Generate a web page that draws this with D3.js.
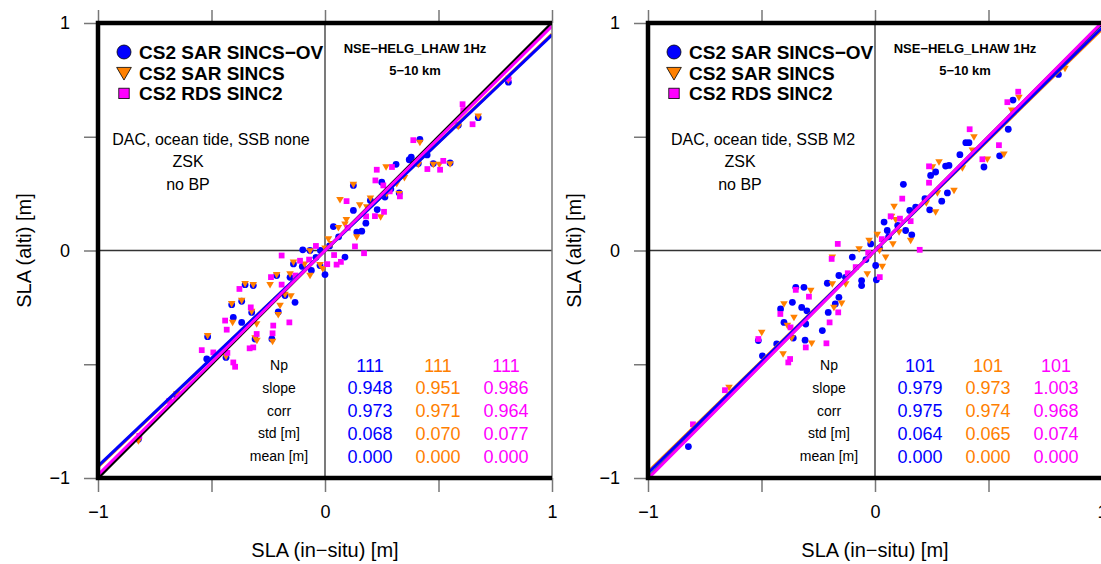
<!DOCTYPE html>
<html><head><meta charset="utf-8">
<script src="https://cdn.jsdelivr.net/npm/d3@7"></script>
<style>body{margin:0;background:#fff}svg{display:block}text{font-family:"Liberation Sans",Arial,Helvetica,sans-serif}</style>
</head><body><svg id="c" width="1101" height="564"></svg>
<script>
// ---------- data ----------
const axisTicks = [-1, -0.5, 0, 0.5, 1];
const tickLabels = {"-1": "\u22121", "0": "0", "1": "1"};
const seriesNames = ["CS2 SAR SINCS\u2212OV", "CS2 SAR SINCS", "CS2 RDS SINC2"];
const seriesColors = ["#0000ff", "#ff8000", "#ff00ff"];
const statLabels = ["Np", "slope", "corr", "std [m]", "mean [m]"];
const titleLines = ["NSE\u2212HELG_LHAW 1Hz", "5\u221210 km"];
const notesA = ["DAC, ocean tide, SSB none", "ZSK", "no BP"];
const notesB = ["DAC, ocean tide, SSB M2", "ZSK", "no BP"];
const xAxisTitle = "SLA (in\u2212situ) [m]";
const yAxisTitle = "SLA (alti) [m]";

const statsA_ov    = ["111", "0.948", "0.973", "0.068", "0.000"];
const statsA_sincs = ["111", "0.951", "0.971", "0.070", "0.000"];
const statsA_sinc2 = ["111", "0.986", "0.964", "0.077", "0.000"];
const statsB_ov    = ["101", "0.979", "0.975", "0.064", "0.000"];
const statsB_sincs = ["101", "0.973", "0.974", "0.065", "0.000"];
const statsB_sinc2 = ["101", "1.003", "0.968", "0.074", "0.000"];

// [in-situ, altimetry] pairs
const panelA_ov = [[0.418,0.488],[0.675,0.584],[0.587,0.551],[0.808,0.740],[0.551,0.385],[0.477,0.382],[0.371,0.399],[0.411,0.382],[0.313,0.379],[0.125,0.286],[0.327,0.253],[0.264,0.235],[0.125,0.176],[0.140,0.081],[0.162,0.085],[0.037,0.105],[0.088,-0.029],[0.000,-0.106],[-0.020,0.000],[-0.022,-0.066],[-0.098,0.003],[-0.066,0.000],[-0.139,-0.059],[-0.060,-0.088],[-0.154,-0.118],[-0.213,-0.110],[-0.176,-0.198],[-0.132,-0.228],[-0.206,-0.270],[-0.316,-0.154],[-0.352,-0.150],[-0.367,-0.223],[-0.411,-0.238],[-0.323,-0.272],[-0.404,-0.294],[-0.367,-0.316],[-0.308,-0.389],[-0.234,-0.389],[-0.517,-0.379],[-0.521,-0.477],[-0.436,-0.470],[-0.653,-0.640],[-0.822,-0.830],[0.290,0.270],[0.250,0.300],[0.200,0.220],[0.060,0.060],[0.020,0.020],[-0.040,-0.030],[-0.100,-0.070],[0.450,0.420],[0.380,0.410],[0.230,0.180],[0.180,0.120]];
const panelA_sincs = [[0.418,0.475],[0.675,0.590],[0.587,0.545],[0.808,0.749],[0.551,0.380],[0.477,0.378],[0.504,0.378],[0.411,0.378],[0.269,0.367],[0.125,0.290],[0.066,0.223],[0.316,0.294],[0.327,0.250],[0.272,0.250],[0.153,0.200],[0.184,0.191],[0.245,0.147],[0.094,0.135],[0.088,0.115],[0.059,0.100],[0.140,0.059],[0.015,0.051],[0.030,0.030],[-0.066,-0.002],[-0.022,-0.062],[-0.010,-0.080],[-0.139,-0.052],[-0.066,-0.110],[-0.154,-0.103],[-0.213,-0.106],[-0.242,-0.150],[-0.176,-0.193],[-0.150,-0.200],[-0.198,-0.242],[-0.206,-0.282],[-0.316,-0.150],[-0.352,-0.146],[-0.367,-0.220],[-0.411,-0.234],[-0.323,-0.268],[-0.407,-0.316],[-0.301,-0.323],[-0.308,-0.385],[-0.300,-0.395],[-0.231,-0.400],[-0.517,-0.375],[-0.436,-0.466],[-0.653,-0.631],[-0.822,-0.837],[0.350,0.320],[0.200,0.230],[-0.090,-0.060],[0.000,0.010]];
const panelA_sinc2 = [[0.389,0.485],[0.609,0.617],[0.606,0.643],[0.650,0.555],[0.808,0.756],[0.451,0.358],[0.507,0.355],[0.521,0.394],[0.295,0.367],[0.228,0.355],[0.095,0.217],[0.222,0.308],[0.257,0.286],[0.330,0.238],[0.285,0.260],[0.220,0.151],[0.181,0.150],[0.260,0.170],[0.132,0.018],[0.172,-0.012],[0.051,-0.062],[0.070,-0.050],[0.040,-0.020],[-0.040,0.020],[-0.191,-0.022],[-0.070,-0.040],[-0.110,-0.045],[-0.238,-0.117],[-0.191,-0.150],[-0.157,-0.316],[-0.377,-0.169],[-0.327,-0.250],[-0.440,-0.308],[-0.433,-0.348],[-0.228,-0.330],[-0.231,-0.364],[-0.301,-0.367],[-0.316,-0.426],[-0.332,-0.430],[-0.543,-0.438],[-0.492,-0.448],[-0.430,-0.450],[-0.404,-0.492],[-0.396,-0.511],[-0.686,-0.661],[-0.818,-0.815],[0.010,-0.060],[0.100,0.100],[-0.130,-0.110]];

const panelB_ov = [[0.808,0.774],[0.608,0.661],[0.587,0.533],[0.480,0.367],[0.549,0.416],[0.414,0.474],[0.400,0.474],[0.374,0.421],[0.326,0.374],[0.311,0.371],[0.245,0.330],[0.267,0.345],[0.125,0.291],[0.319,0.253],[0.294,0.217],[0.220,0.228],[0.241,0.179],[0.179,0.191],[0.153,0.176],[0.040,0.125],[0.054,0.088],[0.135,0.088],[0.162,0.069],[-0.019,0.029],[0.003,-0.066],[0.006,-0.129],[-0.100,-0.029],[-0.159,-0.110],[-0.130,-0.118],[-0.059,-0.132],[-0.059,-0.154],[-0.210,-0.144],[-0.349,-0.162],[-0.313,-0.162],[-0.159,-0.206],[-0.175,-0.235],[-0.364,-0.228],[-0.416,-0.257],[-0.323,-0.250],[-0.300,-0.265],[-0.401,-0.316],[-0.305,-0.323],[-0.206,-0.272],[-0.232,-0.352],[-0.308,-0.394],[-0.360,-0.385],[-0.514,-0.396],[-0.496,-0.463],[-0.433,-0.411],[-0.822,-0.862],[0.060,0.060],[0.020,0.010],[-0.040,-0.040],[0.100,0.110]];
const panelB_sincs = [[0.837,0.800],[0.634,0.673],[0.602,0.617],[0.436,0.499],[0.429,0.441],[0.495,0.401],[0.568,0.423],[0.282,0.389],[0.385,0.363],[0.253,0.367],[0.348,0.264],[0.275,0.253],[0.226,0.209],[0.267,0.169],[0.084,0.194],[0.073,0.150],[0.091,0.135],[0.106,0.081],[0.157,0.044],[0.079,0.029],[0.010,0.070],[-0.026,0.044],[-0.070,0.007],[0.047,-0.029],[0.032,-0.070],[-0.188,-0.029],[-0.034,-0.103],[-0.129,-0.147],[-0.188,-0.147],[-0.283,-0.176],[-0.147,-0.232],[-0.181,-0.250],[-0.401,-0.235],[-0.357,-0.294],[-0.386,-0.330],[-0.367,-0.385],[-0.279,-0.408],[-0.499,-0.360],[-0.405,-0.455],[-0.643,-0.602],[0.020,0.000],[-0.020,-0.020]];
const panelB_sinc2 = [[0.631,0.698],[0.583,0.652],[0.417,0.533],[0.546,0.463],[0.473,0.401],[0.238,0.370],[0.238,0.298],[0.120,0.228],[0.069,0.150],[0.157,0.129],[0.197,0.003],[-0.164,0.029],[-0.191,-0.037],[-0.085,-0.073],[0.021,-0.117],[-0.291,-0.203],[-0.349,-0.173],[-0.162,-0.272],[-0.200,-0.316],[-0.417,-0.279],[-0.372,-0.338],[-0.514,-0.389],[-0.305,-0.426],[-0.214,-0.408],[-0.374,-0.477],[-0.382,-0.492],[-0.661,-0.614],[-0.802,-0.764],[0.030,0.050],[-0.030,-0.010],[0.110,0.140],[-0.120,-0.100]];

// ---------- drawing ----------
const svg = d3.select("#c");
const FONT_TICK = 18;
const panels = [
  {left: 98, notes: notesA, noteDx: [113, 90, 90], series: [panelA_ov, panelA_sincs, panelA_sinc2], stats: [statsA_ov, statsA_sincs, statsA_sinc2]},
  {left: 648, notes: notesB, noteDx: [115, 92, 92], series: [panelB_ov, panelB_sincs, panelB_sinc2], stats: [statsB_ov, statsB_sincs, statsB_sinc2]}
];

const triPath = s => `M${-s/2},${-s*0.36}L${s/2},${-s*0.36}L0,${s*0.5}Z`;
function marker(sel, k, size) {
  if (k === 0) return sel.append("circle").attr("r", size / 2);
  if (k === 1) return sel.append("path").attr("d", triPath(size * 1.05));
  return sel.append("rect").attr("x", -size * 0.4).attr("y", -size * 0.4).attr("width", size * 0.8).attr("height", size * 0.8);
}

panels.forEach((p, pi) => {
  const x = d3.scaleLinear().domain([-1, 1]).range([p.left, p.left + 454]);
  const y = d3.scaleLinear().domain([-1, 1]).range([478, 23]);
  const g = svg.append("g");
  const fmt = d => tickLabels[String(d)] ?? "";

  const clipId = "clip" + pi;
  svg.append("clipPath").attr("id", clipId).append("rect")
    .attr("x", x(-1)).attr("y", y(1)).attr("width", x(1) - x(-1)).attr("height", y(-1) - y(1));

  // zero lines
  g.append("line").attr("x1", x(0)).attr("x2", x(0)).attr("y1", y(1)).attr("y2", y(-1)).attr("stroke", "#333").attr("stroke-width", 1.3);
  g.append("line").attr("x1", x(-1)).attr("x2", x(1)).attr("y1", y(0)).attr("y2", y(0)).attr("stroke", "#333").attr("stroke-width", 1.3);

  // axes
  const styleAxis = a => {
    a.select(".domain").remove();
    a.selectAll(".tick line").attr("stroke", "#777").attr("stroke-width", 1.5);
    a.selectAll(".tick text").attr("fill", "#000").style("font-size", FONT_TICK + "px").style("font-family", '"Liberation Sans",Arial,sans-serif');
  };
  g.append("g").attr("transform", `translate(0,${y(-1)})`)
    .call(d3.axisBottom(x).tickValues(axisTicks).tickSize(14).tickPadding(13).tickFormat(fmt)).call(styleAxis);
  g.append("g").attr("transform", `translate(0,${y(1)})`)
    .call(d3.axisTop(x).tickValues(axisTicks).tickSize(13).tickFormat("")).call(styleAxis);
  g.append("g").attr("transform", `translate(${x(-1)},0)`)
    .call(d3.axisLeft(y).tickValues(axisTicks).tickSize(14).tickPadding(14).tickFormat(fmt)).call(styleAxis);

  // axis titles
  g.append("text").attr("x", x(0)).attr("y", 557).attr("text-anchor", "middle").style("font-size", "20px").text(xAxisTitle);
  g.append("text").attr("transform", `translate(${p.left - 74},${y(0)}) rotate(-90)`).attr("text-anchor", "middle").attr("dy", "0.35em").style("font-size", "20px").text(yAxisTitle);

  // scatter points
  const pts = g.append("g").attr("clip-path", `url(#${clipId})`);
  p.series.forEach((data, k) => {
    data.forEach(d => {
      const m = pts.append("g").attr("transform", `translate(${x(d[0])},${y(d[1])})`);
      marker(m, k, k === 0 ? 6.8 : 7.2).attr("fill", seriesColors[k]);
    });
  });

  // regression lines (intercept from mean = 0)
  const lines = g.append("g").attr("clip-path", `url(#${clipId})`);
  lines.append("line").attr("x1", x(-1)).attr("y1", y(-1)).attr("x2", x(1)).attr("y2", y(1)).attr("stroke", "#000").attr("stroke-width", 3);
  [1, 0, 2].forEach(k => {
    const s = +p.stats[k][1];
    lines.append("line").attr("x1", x(-1)).attr("y1", y(-s)).attr("x2", x(1)).attr("y2", y(s))
      .attr("stroke", seriesColors[k]).attr("stroke-width", 3);
  });

  // frame
  g.append("line").attr("x1", x(1)).attr("x2", x(1)).attr("y1", y(1)).attr("y2", y(-1)).attr("stroke", "#777").attr("stroke-width", 1.5);
  g.append("path").attr("d", `M${x(1)},${y(1)}H${x(-1)}V${y(-1)}H${x(1)}`).attr("fill", "none").attr("stroke", "#000").attr("stroke-width", 4.5);

  // legend
  seriesNames.forEach((n, k) => {
    const cy = 52 + k * 20.7;
    const m = g.append("g").attr("transform", `translate(${p.left + 26},${cy})`);
    marker(m, k, k === 0 ? 14 : (k === 1 ? 14 : 13)).attr("fill", seriesColors[k]).attr("stroke", "#000").attr("stroke-width", 0.8);
    g.append("text").attr("x", p.left + 41).attr("y", cy + 7).style("font-size", "19px").style("font-weight", "bold").text(n);
  });

  // title
  titleLines.forEach((t, i) => {
    g.append("text").attr("x", x(0) + 90).attr("y", 53 + i * 22).attr("text-anchor", "middle").style("font-size", "13px").style("font-weight", "bold").text(t);
  });

  // notes
  p.notes.forEach((t, i) => {
    g.append("text").attr("x", p.left + p.noteDx[i]).attr("y", 145 + i * 22.3).attr("text-anchor", "middle").style("font-size", "16px").text(t);
  });

  // stats table
  statLabels.forEach((t, r) => {
    const cy = 365 + r * 22.8;
    g.append("text").attr("x", x(0) - 46).attr("y", cy + 5).attr("text-anchor", "middle").style("font-size", "14px").text(t);
    p.stats.forEach((col, k) => {
      g.append("text").attr("x", x(0) + 45 + k * 68).attr("y", cy + 6.5).attr("text-anchor", "middle")
        .style("font-size", "18px").attr("fill", seriesColors[k]).text(col[r]);
    });
  });
});
</script></body></html>
